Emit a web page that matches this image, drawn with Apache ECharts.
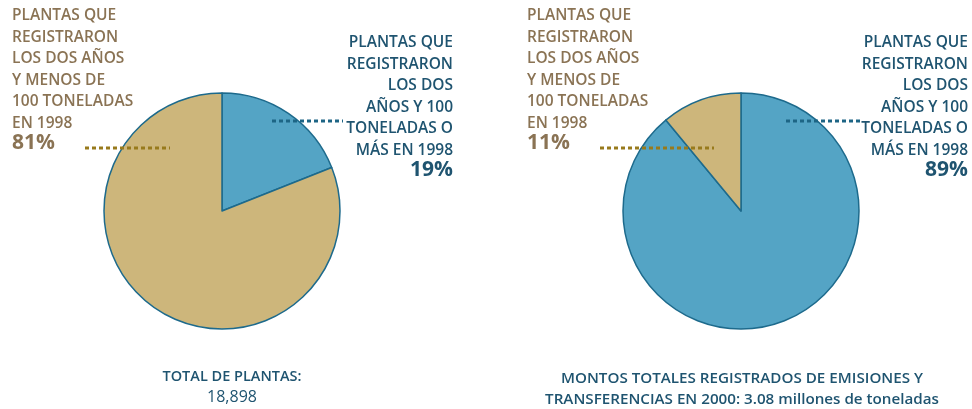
<!DOCTYPE html>
<html>
<head>
<meta charset="utf-8">
<script src="https://cdn.jsdelivr.net/npm/echarts@6/dist/echarts.min.js"></script>
<style>
  html, body { margin: 0; padding: 0; background: #fff; }
  #main { width: 972px; height: 409px; }
</style>
</head>
<body>
<div id="main"></div>
<script>
// datos
const categories = [
    'PLANTAS QUE\nREGISTRARON\nLOS DOS\nAÑOS Y 100\nTONELADAS O\nMÁS EN 1998',
    'PLANTAS QUE\nREGISTRARON\nLOS DOS AÑOS\nY MENOS DE\n100 TONELADAS\nEN 1998'
]
const plantas = [19, 81]      // % del total de plantas
const montos = [89, 11]       // % de emisiones y transferencias
const totalPlantas = ['TOTAL DE PLANTAS:', '18,898']
const totalMontos = ['MONTOS TOTALES REGISTRADOS DE EMISIONES Y', 'TRANSFERENCIAS EN 2000: 3.08 millones de toneladas']

const BLUE = '#54a4c5'
const TAN = '#cdb67b'
const BLUE_TXT = '#1f5470'
const TAN_TXT = '#8a7354'
const FONT = '"Open Sans", "Noto Sans", sans-serif'

var myChart = echarts.init(document.getElementById('main'))

// etiqueta con texto en varias lineas y porcentaje en negrita
const label = (x, y, text, pct, color, align) => ({
    type: 'text',
    x: x,
    y: y,
    style: {
        text: '{a|' + text + '}\n{p|' + pct + '%}',
        align: align,
        verticalAlign: 'top',
        fill: color,
        rich: {
            a: { fontFamily: FONT, fontSize: 15.5, fontWeight: 600, lineHeight: 21.5, fill: color, align: align },
            p: { fontFamily: FONT, fontSize: 21, fontWeight: 700, lineHeight: 18, fill: color, align: align }
        }
    }
})

const leader = (x1, x2, y, color) => ({
    type: 'line',
    shape: { x1: x1, y1: y, x2: x2, y2: y },
    style: { stroke: color, lineWidth: 3, lineDash: [4, 3] },
    z: 10
})

const caption = (x, y, lines, bold2, size) => ({
    type: 'text',
    x: x,
    y: y,
    style: {
        text: '{a|' + lines[0] + '}\n{' + (bold2 ? 'a' : 'b') + '|' + lines[1] + '}',
        align: 'center',
        verticalAlign: 'top',
        fill: BLUE_TXT,
        rich: {
            a: { fontFamily: FONT, fontSize: size, fontWeight: 600, lineHeight: 21, fill: BLUE_TXT, align: 'center' },
            b: { fontFamily: FONT, fontSize: 16, fontWeight: 400, lineHeight: 21, fill: BLUE_TXT, align: 'center' }
        }
    }
})

const pieSeries = (center, values) => ({
    type: 'pie',
    center: center,
    radius: 118,
    startAngle: 90,
    clockwise: true,
    silent: true,
    label: { show: false },
    labelLine: { show: false },
    itemStyle: { borderColor: '#1d6a8c', borderWidth: 1.5 },
    data: values.map((v, i) => ({
        name: categories[i],
        value: v,
        itemStyle: { color: i === 0 ? BLUE : TAN }
    }))
})

var option = {
    animation: false,
    series: [
        pieSeries([222, 211], plantas),
        pieSeries([741, 211], montos)
    ],
    graphic: [
        label(12, 5, categories[1], plantas[1], TAN_TXT, 'left'),
        label(453, 32, categories[0], plantas[0], BLUE_TXT, 'right'),
        label(527, 5, categories[1], montos[1], TAN_TXT, 'left'),
        label(968, 32, categories[0], montos[0], BLUE_TXT, 'right'),
        leader(85, 170, 148, '#987a1c'),
        leader(272, 343, 121, '#1d6585'),
        leader(600, 714, 148, '#987a1c'),
        leader(786, 861, 121, '#1d6585'),
        caption(232, 366, totalPlantas, false, 14.5),
        caption(742, 368, totalMontos, true, 15.2)
    ]
}

myChart.setOption(option)
</script>
</body>
</html>
